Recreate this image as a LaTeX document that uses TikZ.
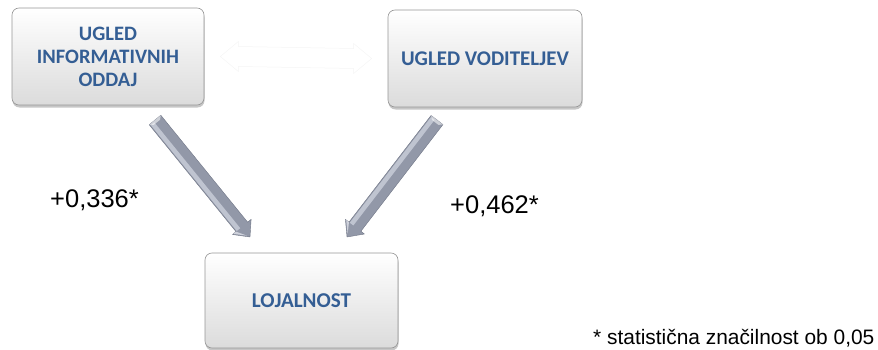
\documentclass[tikz,border=0pt]{standalone}
\usepackage{fontspec}
\setmainfont{Liberation Sans}
\newfontfamily\boxfont{Carlito}
\usetikzlibrary{calc,shadows}

\definecolor{boxblue}{RGB}{52,94,148}
\definecolor{arrowbody}{RGB}{146,152,168}
\definecolor{arrowlight}{RGB}{200,204,216}
\definecolor{arrowdark}{RGB}{112,118,134}
\definecolor{boxedge}{RGB}{150,150,150}

\tikzset{
  factor/.style={
    rounded corners=7pt, draw=boxedge, line width=0.6pt,
    top color=white, bottom color=black!14,
    drop shadow={shadow xshift=0.5pt, shadow yshift=-2.5pt, opacity=0.45},
    align=center, text=boxblue, font=\boxfont\bfseries,
    inner sep=0pt
  },
  coef/.style={font=\fontsize{25.5}{28}\selectfont, inner sep=0pt},
  note/.style={font=\fontsize{20.9}{24}\selectfont, inner sep=0pt},
  % solid block arrow pointing along +x, length #1
  pics/blockarrow/.style={
    code={
      \pgfmathsetmacro\blen{#1}
      \pgfmathsetmacro\bneck{\blen-13}
      \fill[arrowbody, draw=arrowdark, line width=0.4pt, line join=round]
        (0,7.5) -- (\bneck,7.5) -- (\bneck,12) -- (\blen,0)
        -- (\bneck,-12) -- (\bneck,-7.5) -- (0,-7.5) -- cycle;
      \fill[arrowlight, opacity=0.85]
        (1.5,-2) -- (\bneck,-2) -- (\bneck,-6.5) -- (1.5,-6.5) -- cycle;
      \fill[arrowlight!60!white, opacity=0.8]
        (\bneck,-7.5) -- (\bneck,-11) -- (\blen-3,-1.5) -- cycle;
      \fill[white, opacity=0.55]
        (0,7.5) -- (3,4) -- (3,-4) -- (0,-7.5) -- cycle;
    }
  }
}

\begin{document}
\begin{tikzpicture}[x=1pt,y=1pt]
  \useasboundingbox (0,0) rectangle (878,349);

  % the three factors
  \node[factor, minimum width=192pt, minimum height=97pt,
        font=\boxfont\bfseries\fontsize{20.5}{23}\selectfont]
    (news) at (108,292.5) {UGLED\\INFORMATIVNIH\\ODDAJ};
  \node[factor, minimum width=194pt, minimum height=97pt,
        font=\boxfont\bfseries\fontsize{20.9}{24}\selectfont]
    (hosts) at (485,290.5) {UGLED VODITELJEV};
  \node[factor, minimum width=193pt, minimum height=95pt,
        font=\boxfont\bfseries\fontsize{21.1}{24}\selectfont]
    (loyal) at (301.5,48.5) {LOJALNOST};

  % faint two-headed arrow linking the upper factors
  \coordinate (lnkL) at ($(news.east)+(16,0)$);
  \coordinate (lnkR) at ($(hosts.west)+(-16,0)$);
  \draw[black!4, fill=white, line width=0.5pt]
    (lnkL) -- ++(18,15) -- ++(0,-5) -- ($(lnkR)+(-18,10)$) -- ++(0,5) -- (lnkR)
    -- ++(-18,-15) -- ++(0,5) -- ($(lnkL)+(18,-10)$) -- ++(0,-5) -- cycle;

  % arrow end points
  \coordinate (s1) at (155,229);
  \coordinate (t1) at (250,112);
  \coordinate (s2) at (437,229);
  \coordinate (t2) at (347,112);

  \path let \p1=($(t1)-(s1)$), \n1={atan2(\y1,\x1)}, \n2={veclen(\x1,\y1)}
    in (s1) pic[rotate=\n1] {blockarrow=\n2};
  \path let \p1=($(t2)-(s2)$), \n1={atan2(\y1,\x1)}, \n2={veclen(\x1,\y1)}
    in (s2) pic[rotate=\n1] {blockarrow=\n2};

  % path coefficients
  \node[coef, anchor=base] (c1) at (94.5,142) {+0,336*};
  \node[coef, anchor=base] (c2) at (494.5,136) {+0,462*};

  % significance note
  \node[note, anchor=base west] (sig) at (593,5) {* statistična značilnost ob 0,05};
\end{tikzpicture}
\end{document}
